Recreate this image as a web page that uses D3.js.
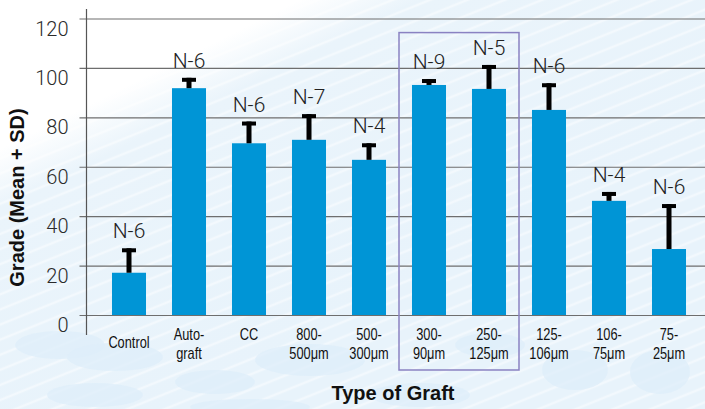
<!DOCTYPE html>
<html>
<head>
<meta charset="utf-8">
<script src="https://cdn.jsdelivr.net/npm/d3@7"></script>
<style>
  body { margin: 0; background: #fff; }
  svg { display: block; }
</style>
</head>
<body>
<svg id="chart" width="705" height="409"></svg>
<script>
// data
var categories = ["Control", "Autograft", "CC", "800-500μm", "500-300μm",
  "300-90μm", "250-125μm", "125-106μm", "106-75μm", "75-25μm"];
var tickLabels = [["Control"], ["Auto-", "graft"], ["CC"], ["800-", "500μm"], ["500-", "300μm"],
  ["300-", "90μm"], ["250-", "125μm"], ["125-", "106μm"], ["106-", "75μm"], ["75-", "25μm"]];
var means = [17.1, 91.8, 69.5, 70.9, 62.8, 93.1, 91.5, 83.0, 46.2, 26.7];
var sds = [9.9, 4.2, 8.8, 10.4, 6.7, 2.4, 9.7, 10.8, 3.6, 18.2];
var nLabels = ["N-6", "N-6", "N-6", "N-7", "N-4", "N-9", "N-5", "N-6", "N-4", "N-6"];
var yTicks = [0, 20, 40, 60, 80, 100, 120];
var highlighted = ["300-90μm", "250-125μm"];

var W = 705, H = 409;
var lightFont = "Roboto, 'Liberation Sans', Arial, sans-serif";
var svg = d3.select("#chart");

// background: pale blue with light streaks and blobs
var defs = svg.append("defs");
var grad = defs.append("linearGradient").attr("id", "bg")
  .attr("x1", "0%").attr("y1", "0%").attr("x2", "60%").attr("y2", "70%");
grad.append("stop").attr("offset", "0%").attr("stop-color", "#ffffff");
grad.append("stop").attr("offset", "30%").attr("stop-color", "#ffffff");
grad.append("stop").attr("offset", "42%").attr("stop-color", "#eaf4fb");
grad.append("stop").attr("offset", "100%").attr("stop-color", "#e8f3fb");

var pat = defs.append("pattern").attr("id", "streaks")
  .attr("patternUnits", "userSpaceOnUse").attr("width", 40).attr("height", 14)
  .attr("patternTransform", "rotate(-22)");
pat.append("line").attr("x1", 0).attr("y1", 7).attr("x2", 40).attr("y2", 7)
  .attr("stroke", "#ffffff").attr("stroke-width", 2.5).attr("stroke-opacity", 0.45);

svg.append("rect").attr("width", W).attr("height", H).attr("fill", "url(#bg)");
svg.append("rect").attr("width", W).attr("height", H).attr("fill", "url(#streaks)");

var blobs = [[60, 345, 45, 14], [115, 357, 48, 14], [95, 395, 48, 12], [215, 382, 40, 12],
  [310, 360, 55, 16], [420, 395, 50, 12], [575, 370, 33, 20], [660, 372, 30, 22],
  [490, 345, 35, 12], [250, 407, 60, 8]];
svg.append("g").selectAll("ellipse").data(blobs).join("ellipse")
  .attr("cx", d => d[0]).attr("cy", d => d[1]).attr("rx", d => d[2]).attr("ry", d => d[3])
  .attr("fill", "#ddeefa").attr("opacity", 0.75);

// scales
var x = d3.scaleBand().domain(categories).range([99, 699])
  .paddingInner(0.433).paddingOuter(0.2165);
var y = d3.scaleLinear().domain([0, 120]).range([315, 18.5]);
var axisX = 86.5;

// y axis with gridlines
var yAxis = svg.append("g")
  .attr("transform", "translate(" + axisX + ",0)")
  .call(d3.axisLeft(y).tickValues(yTicks).tickSizeInner(-(W - axisX)).tickSizeOuter(0).tickPadding(18));
yAxis.select(".domain").remove();
yAxis.selectAll(".tick line").attr("x1", -7).attr("stroke", "#6e6e6e").attr("stroke-width", 1.2);
yAxis.selectAll(".tick text")
  .attr("dy", "16.5")
  .style("font-family", lightFont)
  .style("font-weight", "300")
  .style("font-size", "20px")
  .attr("fill", "#2a2a2a");
svg.append("line").attr("x1", axisX).attr("x2", axisX).attr("y1", 9).attr("y2", 335)
  .attr("stroke", "#555").attr("stroke-width", 1.2);

// highlight box
var step = x.step(), gap = step - x.bandwidth();
svg.append("rect")
  .attr("x", x(highlighted[0]) - gap / 2)
  .attr("y", y(114.3))
  .attr("width", x(highlighted[1]) - x(highlighted[0]) + step)
  .attr("height", y(0) - y(114.3) + 55)
  .attr("fill", "none").attr("stroke", "#8a82c2").attr("stroke-width", 1.5);

// bars
svg.append("g").selectAll("rect").data(categories).join("rect")
  .attr("x", d => x(d))
  .attr("y", (d, i) => y(means[i]))
  .attr("width", x.bandwidth())
  .attr("height", (d, i) => y(0) - y(means[i]))
  .attr("fill", "#0095d6");

// error bars
var err = svg.append("g").selectAll("g").data(categories).join("g");
err.append("rect")
  .attr("x", d => x(d) + x.bandwidth() / 2 - 2.5)
  .attr("y", (d, i) => y(means[i] + sds[i]))
  .attr("width", 5)
  .attr("height", (d, i) => y(means[i]) - y(means[i] + sds[i]))
  .attr("fill", "#000");
err.append("rect")
  .attr("x", d => x(d) + x.bandwidth() / 2 - 7)
  .attr("y", (d, i) => y(means[i] + sds[i]))
  .attr("width", 14).attr("height", 4)
  .attr("fill", "#000");

// N labels
svg.append("g").selectAll("text").data(categories).join("text")
  .attr("x", d => x(d) + x.bandwidth() / 2)
  .attr("y", (d, i) => y(means[i] + sds[i]) - 10)
  .attr("text-anchor", "middle")
  .style("font-family", lightFont)
  .style("font-weight", "300")
  .style("font-size", "21px")
  .attr("fill", "#222")
  .text((d, i) => nLabels[i]);

// category labels (condensed look via horizontal squeeze)
var xl = svg.append("g").selectAll("text").data(categories).join("text")
  .attr("transform", d => "translate(" + (x(d) + x.bandwidth() / 2) + "," + (d === "Control" ? 348 : 340) + ") scale(0.8,1)")
  .attr("text-anchor", "middle")
  .style("font-family", "'Liberation Sans', Arial, sans-serif")
  .style("font-size", "16px")
  .attr("fill", "#111");
xl.each(function (d, i) {
  var t = d3.select(this);
  tickLabels[i].forEach(function (line, j) {
    t.append("tspan").attr("x", 0).attr("dy", j === 0 ? 0 : 19).text(line);
  });
});

// axis titles
svg.append("text")
  .attr("x", 393).attr("y", 400)
  .attr("text-anchor", "middle")
  .style("font-family", "'Liberation Sans', Arial, sans-serif")
  .style("font-size", "20px").style("font-weight", "bold")
  .attr("fill", "#111")
  .text("Type of Graft");

svg.append("text")
  .attr("transform", "translate(24,197.5) rotate(-90)")
  .attr("text-anchor", "middle")
  .style("font-family", "'Liberation Sans', Arial, sans-serif")
  .style("font-size", "20px").style("font-weight", "bold")
  .attr("fill", "#111")
  .text("Grade (Mean + SD)");
</script>
</body>
</html>
